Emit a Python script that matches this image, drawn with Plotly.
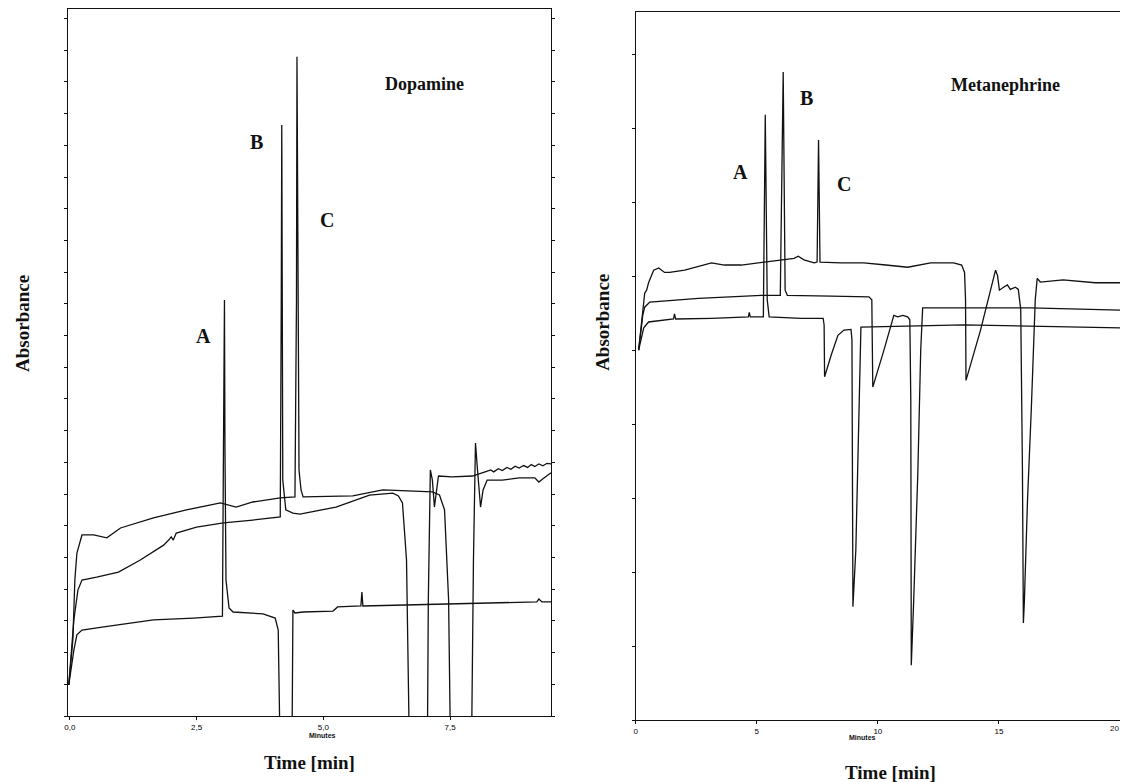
import plotly.graph_objects as go

W, H = 1121, 782

# ---------------- Dopamine panel (time in min, absorbance in arbitrary units) -------------
dopa_t1 = [-0.02, 0.06, 0.10, 0.14, 0.24, 0.47, 0.73, 1.00, 1.65, 2.30, 2.97, 3.28, 3.61, 4.15, 4.44,
           4.47, 4.48, 4.50, 4.52, 4.56, 4.60, 5.58, 6.17, 7.15, 7.29, 7.39, 7.47, 7.51,
           7.92, 7.96, 8.00, 8.04, 8.10, 8.15, 8.23, 8.53, 8.86, 9.17, 9.25, 9.33, 9.49]
dopa_a1 = [0.98, 2.40, 4.30, 5.14, 5.71, 5.71, 5.62, 5.93, 6.25, 6.50, 6.72, 6.59, 6.75, 6.88, 6.91,
           13.1, 20.79, 13.1, 7.76, 7.13, 6.91, 6.94, 7.13, 7.07, 6.97, 6.50, 3.66, -1.4,
           -1.4, 4.92, 8.61, 7.76, 6.59, 7.13, 7.44, 7.44, 7.51, 7.51, 7.38, 7.48, 7.67]

dopa_t2 = [-0.02, 0.08, 0.16, 0.24, 0.53, 0.96, 1.39, 1.85, 1.95, 2.00, 2.04, 2.10, 2.50, 3.03,
           3.61, 4.15, 4.17, 4.18, 4.19, 4.20, 4.26, 4.40, 4.54, 5.25, 5.91, 6.37, 6.48, 6.56,
           6.64, 6.70, 7.05, 7.07, 7.11, 7.15, 7.19, 7.23, 7.27, 7.54, 7.94, 8.19, 8.30, 8.36,
           8.45, 8.53, 8.62, 8.70, 8.78, 8.86, 8.95, 9.03, 9.10, 9.17, 9.25, 9.33, 9.41, 9.49]
dopa_a2 = [0.98, 3.03, 3.97, 4.29, 4.38, 4.54, 4.92, 5.39, 5.55, 5.65, 5.55, 5.77, 5.96, 6.09,
           6.18, 6.28, 13.1, 18.64, 13.1, 7.44, 6.50, 6.40, 6.37, 6.59, 6.97, 7.03, 6.94, 6.72,
           4.92, -1.4, -1.4, 3.66, 7.76, 7.44, 6.59, 7.13, 7.57, 7.54, 7.57, 7.70, 7.76, 7.70,
           7.80, 7.74, 7.84, 7.78, 7.88, 7.82, 7.90, 7.84, 7.93, 7.87, 7.95, 7.89, 7.97, 7.95]

dopa_t3 = [-0.02, 0.08, 0.14, 0.24, 0.67, 1.65, 2.44, 3.01, 3.03, 3.05, 3.06, 3.08, 3.14, 3.22,
           3.81, 4.05, 4.11, 4.15, 4.38, 4.40, 4.44, 4.60, 5.19, 5.28, 5.74, 5.76, 5.78, 7.54,
           9.21, 9.25, 9.31, 9.49]
dopa_a3 = [0.98, 2.08, 2.56, 2.71, 2.81, 3.03, 3.09, 3.15, 8.39, 13.12, 8.39, 4.29, 3.41, 3.28,
           3.22, 3.09, 2.71, -1.4, -1.4, 3.34, 3.25, 3.28, 3.31, 3.44, 3.47, 3.91, 3.47, 3.53,
           3.60, 3.69, 3.60, 3.60]

# ---------------- Metanephrine panel -------------
meta_t1 = [0.12, 0.29, 0.37, 0.45, 0.53, 0.74, 0.95, 1.19, 1.40, 2.02, 3.13, 3.66, 4.36, 5.31,
           6.54, 6.71, 6.95, 7.37, 7.49, 7.55, 7.61, 8.48, 9.42, 10.33, 11.23, 12.18, 13.13,
           13.46, 13.58, 13.62, 13.64, 14.24, 14.86, 14.94, 15.02, 15.19, 15.35, 15.47, 15.68,
           15.80, 15.90, 15.97, 16.01, 16.05, 16.18, 16.34, 16.50, 16.58, 16.71, 17.65, 18.48,
           18.97, 20.04]
meta_a1 = [5.00, 5.54, 5.77, 5.81, 5.91, 6.08, 6.11, 6.05, 6.05, 6.08, 6.18, 6.15, 6.15, 6.19,
           6.24, 6.27, 6.22, 6.18, 6.19, 7.84, 6.19, 6.18, 6.18, 6.15, 6.12, 6.18, 6.18,
           6.15, 6.05, 5.68, 4.59, 5.27, 6.08, 6.01, 5.81, 5.85, 5.88, 5.82, 5.85,
           5.82, 5.55, 3.40, 1.31, 1.60, 2.97, 4.23, 5.68, 5.97, 5.92, 5.95, 5.92,
           5.91, 5.91]

meta_t2 = [0.12, 0.29, 0.37, 0.58, 2.59, 3.95, 5.19, 5.97, 6.09, 6.17, 6.26, 8.07, 9.63, 9.75,
           9.79, 10.25, 10.66, 10.82, 11.03, 11.23, 11.32, 11.36, 11.38, 11.48, 11.65, 11.77,
           11.85, 13.54, 16.30, 20.04]
meta_a2 = [5.00, 5.47, 5.58, 5.65, 5.70, 5.72, 5.74, 5.74, 8.76, 5.81, 5.74, 5.73, 5.72, 5.68,
           4.50, 5.00, 5.47, 5.45, 5.47, 5.45, 5.41, 4.32, 0.74, 1.62, 3.34, 5.00,
           5.57, 5.57, 5.57, 5.54]

meta_t3 = [0.12, 0.25, 0.33, 0.53, 1.56, 1.60, 1.65, 3.13, 4.65, 4.69, 4.73, 5.27, 5.35, 5.43,
           5.51, 6.83, 7.74, 7.78, 7.80, 8.07, 8.35, 8.60, 8.89, 8.93, 8.97, 9.09, 9.22, 9.30,
           13.54, 20.04]
meta_a3 = [5.00, 5.20, 5.30, 5.38, 5.42, 5.49, 5.42, 5.43, 5.45, 5.51, 5.45, 5.45, 8.18, 5.68,
           5.45, 5.43, 5.43, 5.34, 4.64, 4.93, 5.20, 5.27, 5.28, 5.14, 1.53, 2.30, 4.32, 5.31,
           5.34, 5.30]

dopa_ticks = [0, 2.5, 5, 7.5]
dopa_ticktext = ["0,0", "2,5", "5,0", "7,5"]
meta_ticks = [0, 5, 10, 15]
meta_ticktext = ["0", "5", "10", "15"]
meta_last_tick = "20"

peak_labels_dopa = ["A", "B", "C"]
peak_labels_meta = ["A", "B", "C"]


def px_x(p):
    return p / W


def px_y(p):
    return 1 - p / H


line = dict(color="#111111", width=1.3)
fig = go.Figure()
for t, a in [(dopa_t1, dopa_a1), (dopa_t2, dopa_a2), (dopa_t3, dopa_a3)]:
    fig.add_trace(go.Scatter(x=t, y=a, mode="lines", line=line, xaxis="x", yaxis="y",
                             showlegend=False, hoverinfo="skip"))
for t, a in [(meta_t1, meta_a1), (meta_t2, meta_a2), (meta_t3, meta_a3)]:
    fig.add_trace(go.Scatter(x=t, y=a, mode="lines", line=line, xaxis="x2", yaxis="y2",
                             showlegend=False, hoverinfo="skip"))

tickfont = dict(family="Liberation Sans", size=8, color="#000")
axcommon = dict(showgrid=False, zeroline=False, showline=True, linecolor="#111", linewidth=1.2,
                ticks="outside", ticklen=3, tickcolor="#111", tickwidth=1)

fig.update_layout(
    width=W, height=H, margin=dict(l=0, r=0, t=0, b=0),
    paper_bgcolor="white", plot_bgcolor="white",
    xaxis=dict(domain=[px_x(64), px_x(549)], range=[-0.04, 9.49], tickvals=dopa_ticks,
               ticktext=dopa_ticktext, tickfont=tickfont, mirror=True, anchor="y", **axcommon),
    yaxis=dict(domain=[px_y(716), px_y(9)], range=[0, 22.3], dtick=1, showticklabels=False,
               mirror="allticks", anchor="x", **axcommon),
    xaxis2=dict(domain=[px_x(634), px_x(1120)], range=[0, 20], tickvals=meta_ticks,
                ticktext=meta_ticktext, tickfont=tickfont, mirror=True, anchor="y2", **axcommon),
    yaxis2=dict(domain=[px_y(720), px_y(12)], range=[0, 9.57], dtick=1, showticklabels=False,
                anchor="x2", **axcommon),
)

serif = "Liberation Serif"
ann = []


def add_text(x, y, text, size, angle=0, family=serif, bold=True, xanchor="center"):
    ann.append(dict(x=px_x(x), y=px_y(y), xref="paper", yref="paper",
                    text=f"<b>{text}</b>" if bold else text,
                    showarrow=False, textangle=angle, xanchor=xanchor, yanchor="middle",
                    font=dict(family=family, size=size, color="#111")))


add_text(422, 84, "Dopamine", 18)
add_text(1005, 85, "Metanephrine", 18)
for lab, (x, y) in zip(peak_labels_dopa, [(200, 336), (253, 142), (324, 220)]):
    add_text(x, y, lab, 20)
for lab, (x, y) in zip(peak_labels_meta, [(739, 172), (805, 98), (843, 184)]):
    add_text(x, y, lab, 20)
add_text(18, 323, "Absorbance", 19, angle=-90)
add_text(600, 322, "Absorbance", 19, angle=-90)
add_text(307, 762, "Time [min]", 19)
add_text(890, 772, "Time [min]", 19)
add_text(320, 735, "Minutes", 7, family="Liberation Sans")
add_text(862, 737, "Minutes", 7, family="Liberation Sans")
add_text(1121, 728, meta_last_tick, 8, family="Liberation Sans", bold=False, xanchor="right")
fig.update_layout(annotations=ann)

fig.write_html("out.html", config={"displayModeBar": False},
               post_script="document.body.style.margin='0';document.body.style.overflow='hidden';")
